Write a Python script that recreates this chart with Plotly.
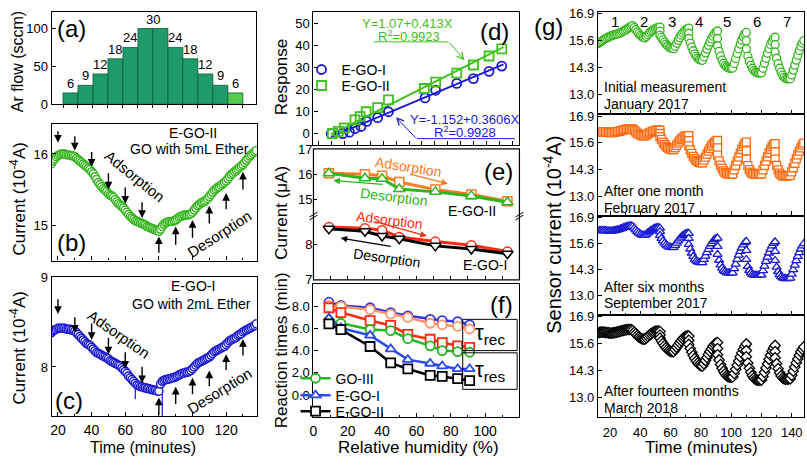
import plotly.graph_objects as go

W, H = 807, 467
FONT = "Arial, Liberation Sans, sans-serif"

# ---------------- data ----------------
# (a) Ar flow steps
AR_STEP = [1, 2, 3, 4, 5, 6, 7, 8, 9, 10, 11, 12]
AR_HEIGHT = [15, 25, 40, 60, 75, 100, 100, 75, 60, 40, 25, 15]
AR_LABELS = ["6", "9", "12", "18", "24", "30", "30", "24", "18", "12", "9", "6"]

# (b) E-GO-II current vs time (10^-4 A)
B_T = list(range(16, 139))
B_I = [15.86, 15.90, 15.93, 15.96, 15.98, 15.99, 16.00, 16.00, 16.00, 15.99, 15.99, 15.98, 15.98, 15.97, 15.96,
       15.94, 15.92, 15.90, 15.88, 15.86, 15.84, 15.82, 15.80, 15.78, 15.75, 15.72, 15.68, 15.64, 15.60, 15.57,
       15.54, 15.51, 15.49, 15.47, 15.44, 15.42, 15.41, 15.39, 15.36, 15.33, 15.30, 15.28, 15.26, 15.24, 15.21,
       15.18, 15.15, 15.12, 15.10, 15.08, 15.06, 15.05, 15.04, 15.03, 15.02, 15.01, 15.00, 14.98, 14.97, 14.96,
       14.95, 14.94, 14.93, 14.92, 14.91, 14.94, 14.98, 15.01, 15.03, 15.04, 15.05, 15.05, 15.05, 15.06, 15.07,
       15.09, 15.11, 15.12, 15.13, 15.14, 15.14, 15.14, 15.15, 15.16, 15.18, 15.21, 15.24, 15.27, 15.29, 15.31,
       15.32, 15.33, 15.35, 15.37, 15.40, 15.43, 15.46, 15.49, 15.51, 15.53, 15.54, 15.56, 15.58, 15.60, 15.62,
       15.65, 15.68, 15.71, 15.73, 15.75, 15.77, 15.79, 15.81, 15.83, 15.85, 15.88, 15.91, 15.94, 15.97, 15.99,
       16.01, 16.03, 16.05]
B_ARROW_T = [20, 30, 40, 50, 60, 70, 80, 90, 100, 110, 120, 130]
B_ARROW_TAIL = [16.34, 16.27, 16.05, 15.75, 15.55, 15.34, 14.59, 14.70, 14.80, 15.00, 15.20, 15.48]
B_ARROW_HEAD = [16.16, 16.05, 15.82, 15.50, 15.30, 15.10, 14.84, 14.98, 15.07, 15.27, 15.45, 15.75]

# (c) E-GO-I current vs time (10^-4 A)
C_T = list(range(16, 139))
C_I = [8.38, 8.40, 8.41, 8.42, 8.43, 8.43, 8.43, 8.43, 8.43, 8.42, 8.42, 8.42, 8.41, 8.41, 8.40,
       8.38, 8.36, 8.34, 8.32, 8.30, 8.28, 8.26, 8.25, 8.24, 8.22, 8.20, 8.18, 8.16, 8.15, 8.14,
       8.13, 8.12, 8.11, 8.10, 8.09, 8.07, 8.06, 8.05, 8.04, 8.03, 8.02, 8.01, 7.99, 7.97, 7.95,
       7.93, 7.90, 7.88, 7.86, 7.84, 7.82, 7.80, 7.79, 7.78, 7.78, 7.77, 7.77, 7.76, 7.76, 7.75,
       7.75, 7.74, 7.74, 7.73, 7.73, 7.81, 7.84, 7.85, 7.86, 7.86, 7.87, 7.87, 7.88, 7.88, 7.89,
       7.90, 7.91, 7.92, 7.93, 7.93, 7.94, 7.94, 7.95, 7.96, 7.98, 8.00, 8.02, 8.04, 8.05, 8.06,
       8.07, 8.08, 8.09, 8.10, 8.11, 8.13, 8.15, 8.17, 8.18, 8.19, 8.20, 8.21, 8.22, 8.23, 8.25,
       8.27, 8.29, 8.30, 8.31, 8.32, 8.33, 8.35, 8.36, 8.37, 8.39, 8.40, 8.41, 8.42, 8.43, 8.44,
       8.45, 8.46, 8.48]
C_SPIKE_T = [66, 66, None, 82, 82]
C_SPIKE_I = [7.82, 7.64, None, 7.75, 7.45]
C_ARROW_T = [20, 30, 40, 50, 60, 70, 80, 90, 100, 110, 120, 130]
C_ARROW_TAIL = [8.77, 8.57, 8.50, 8.34, 8.18, 8.02, 7.45, 7.57, 7.68, 7.77, 7.95, 8.11]
C_ARROW_HEAD = [8.59, 8.38, 8.30, 8.14, 7.98, 7.82, 7.66, 7.78, 7.88, 7.96, 8.14, 8.31]

# (d) response vs relative humidity
D_RH_I = [10.3, 17.1, 21.0, 24.2, 27.7, 31.0, 37.4, 43.7, 65.0, 71.2, 83.5, 93.2, 102.3, 109.7]
D_RESP_I = [-0.1, -0.1, 0.6, 2.2, 3.2, 5.5, 7.2, 9.9, 16.2, 19.7, 22.8, 25.0, 28.3, 30.7]
D_RH_II = [11.0, 14.5, 18.0, 24.2, 27.2, 30.7, 37.4, 43.7, 64.6, 71.2, 83.5, 93.2, 102.3, 109.7]
D_RESP_II = [0.0, 1.0, 2.5, 6.2, 7.7, 9.9, 11.8, 15.3, 20.5, 23.4, 27.5, 31.2, 35.3, 38.5]
D_FIT_X = [10.3, 110.7]
D_FIT_I = [-1.5, 31.5]
D_FIT_II = [-0.4, 39.3]

# (e) current vs RH (uA), adsorption / desorption
E_RH = [9, 30, 40, 50, 71, 92, 113]
E_II_ADS = [16.06, 16.02, 15.96, 15.71, 15.41, 15.22, 14.95]
E_II_DES = [16.06, 15.86, 15.84, 15.43, 15.32, 15.16, 14.91]
E_I_ADS = [8.48, 8.45, 8.39, 8.20, 8.07, 7.97, 7.79]
E_I_DES = [8.43, 8.36, 8.23, 8.15, 7.95, 7.86, 7.73]

# (f) reaction times (min)
F_RH = [9, 16, 33, 45, 55, 68, 75, 84, 91]
F_REC_1 = [8.35, 8.06, 7.85, 7.42, 7.13, 6.81, 6.70, 6.61, 6.32]
F_REC_2 = [8.06, 7.97, 7.68, 7.28, 6.98, 6.46, 6.32, 6.17, 5.94]
F_REC_3 = [7.85, 7.42, 6.70, 6.26, 5.45, 5.02, 4.72, 4.43, 4.29]
F_RES_GOIII = [6.70, 6.46, 5.89, 5.80, 5.07, 4.43, 4.00, 3.91, 3.85]
F_RES_EGOI = [6.90, 6.03, 5.37, 4.14, 3.19, 2.84, 2.61, 2.35, 2.35]
F_RES_EGOII = [6.41, 5.89, 4.37, 2.90, 2.35, 1.77, 1.68, 1.48, 1.30]

# (g) long-term stability (10^-4 A)
G_T = [12, 13, 14, 15, 16, 17, 18, 19, 20, 21, 22, 23, 24, 25, 26, 27, 28, 29, 30, 31, 32, 33, 34, 35,
       36, 37, 38, 39, 40, 41, 42, 43,
       44, 45, 46, 47, 48, 49, 50, 51, 52, 53, 53, 53,
       54, 55, 56, 57, 58, 59, 60, 61, 62,
       63, 64, 65, 66, 67, 68, 69, 70, 71, 72, 72, 72,
       73, 74, 75, 76, 77, 78, 79, 80, 81,
       82, 83, 84, 85, 86, 87, 88, 89, 90, 91, 91, 91,
       92, 93, 94, 95, 96, 97, 98, 99, 100, 101,
       102, 103, 104, 105, 106, 107, 108, 109, 110, 110, 110,
       111, 112, 113, 114, 115, 116, 117, 118, 119, 120,
       121, 122, 123, 124, 125, 126, 127, 128, 129, 129, 129,
       130, 131, 132, 133, 134, 135, 136, 137, 138, 139,
       140, 141, 142, 143, 144, 145, 146, 147, 148]
G_JAN2017 = [15.45, 15.50, 15.55, 15.60, 15.65, 15.69, 15.73, 15.77, 15.80, 15.83, 15.86, 15.88, 15.90, 15.92,
             15.95, 15.98, 16.02, 16.06, 16.10, 16.15, 16.20, 16.24, 16.28, 16.32,
             16.22, 16.12, 16.02, 15.93, 15.85, 15.79, 15.75, 15.73,
             15.80, 15.88, 15.96, 16.03, 16.09, 16.14, 16.18, 16.21, 16.23, 16.25, 16.05, 15.85,
             15.75, 15.63, 15.52, 15.43, 15.35, 15.29, 15.25, 15.22, 15.21,
             15.33, 15.47, 15.61, 15.74, 15.86, 15.96, 16.05, 16.12, 16.17, 16.20, 15.95, 15.70,
             15.48, 15.28, 15.11, 14.96, 14.84, 14.75, 14.69, 14.66, 14.65,
             14.82, 15.01, 15.19, 15.37, 15.53, 15.68, 15.81, 15.92, 16.01, 16.06, 15.70, 15.35,
             15.08, 14.85, 14.66, 14.51, 14.40, 14.33, 14.29, 14.27, 14.27, 14.28,
             14.50, 14.74, 14.98, 15.21, 15.43, 15.62, 15.79, 15.92, 15.99, 15.60, 15.20,
             14.85, 14.60, 14.42, 14.27, 14.16, 14.09, 14.05, 14.04, 14.04, 14.05,
             14.27, 14.51, 14.75, 14.99, 15.21, 15.41, 15.57, 15.69, 15.76, 15.40, 15.05,
             14.75, 14.49, 14.27, 14.08, 13.94, 13.84, 13.78, 13.76, 13.76, 13.77,
             13.95, 14.18, 14.42, 14.66, 14.90, 15.12, 15.32, 15.48, 15.60]
G_FEB2017 = [16.12, 16.13, 16.13, 16.14, 16.14, 16.13, 16.12, 16.11, 16.10, 16.10, 16.11, 16.12, 16.13, 16.14,
             16.16, 16.18, 16.20, 16.22, 16.24, 16.26, 16.27, 16.28, 16.28, 16.26,
             16.20, 16.13, 16.07, 16.02, 15.98, 15.95, 15.93, 15.93,
             15.98, 16.03, 16.08, 16.12, 16.15, 16.18, 16.20, 16.21, 16.21, 16.20, 16.05, 15.90,
             15.76, 15.63, 15.52, 15.43, 15.36, 15.31, 15.28, 15.26, 15.26,
             15.36, 15.47, 15.58, 15.68, 15.77, 15.84, 15.89, 15.93, 15.95, 15.95, 15.70, 15.45,
             15.25, 15.08, 14.94, 14.83, 14.74, 14.68, 14.64, 14.62, 14.62,
             14.75, 14.90, 15.05, 15.19, 15.32, 15.44, 15.54, 15.62, 15.68, 15.71, 15.35, 15.00,
             14.72, 14.51, 14.35, 14.23, 14.15, 14.10, 14.08, 14.07, 14.07, 14.08,
             14.28, 14.49, 14.70, 14.90, 15.09, 15.27, 15.42, 15.55, 15.63, 15.20, 14.80,
             14.48, 14.29, 14.17, 14.10, 14.07, 14.06, 14.06, 14.07, 14.07, 14.08,
             14.28, 14.49, 14.70, 14.91, 15.10, 15.27, 15.41, 15.51, 15.56, 15.15, 14.80,
             14.50, 14.28, 14.12, 14.03, 13.99, 13.98, 13.98, 13.99, 14.00, 14.01,
             14.18, 14.38, 14.60, 14.81, 15.01, 15.19, 15.35, 15.48, 15.58]
G_SEP2017 = [16.22, 16.23, 16.24, 16.24, 16.24, 16.23, 16.22, 16.21, 16.21, 16.21, 16.22, 16.23, 16.25, 16.27,
             16.29, 16.32, 16.35, 16.38, 16.41, 16.43, 16.45, 16.47, 16.47, 16.44,
             16.36, 16.27, 16.19, 16.12, 16.06, 16.02, 16.00, 16.00,
             16.06, 16.12, 16.18, 16.24, 16.29, 16.33, 16.36, 16.38, 16.38, 16.36, 16.18, 16.00,
             15.85, 15.72, 15.61, 15.52, 15.46, 15.42, 15.40, 15.39, 15.40,
             15.50, 15.61, 15.72, 15.82, 15.91, 15.98, 16.04, 16.08, 16.10, 16.10, 15.85, 15.55,
             15.32, 15.12, 14.95, 14.82, 14.73, 14.68, 14.65, 14.64, 14.64,
             14.80, 14.97, 15.14, 15.30, 15.45, 15.58, 15.70, 15.79, 15.84, 15.86, 15.45, 15.05,
             14.76, 14.53, 14.37, 14.26, 14.19, 14.15, 14.13, 14.12, 14.12, 14.13,
             14.34, 14.57, 14.80, 15.01, 15.20, 15.37, 15.52, 15.64, 15.70, 15.25, 14.80,
             14.45, 14.25, 14.13, 14.06, 14.02, 14.01, 14.01, 14.01, 14.02, 14.03,
             14.24, 14.47, 14.70, 14.92, 15.12, 15.31, 15.47, 15.60, 15.68, 15.20, 14.75,
             14.42, 14.20, 14.05, 13.95, 13.89, 13.86, 13.85, 13.85, 13.86, 13.87,
             14.07, 14.29, 14.52, 14.74, 14.95, 15.14, 15.32, 15.47, 15.59]
G_MAR2018 = [16.12, 16.13, 16.14, 16.14, 16.14, 16.13, 16.12, 16.11, 16.10, 16.10, 16.11, 16.12, 16.13, 16.15,
             16.17, 16.19, 16.21, 16.23, 16.25, 16.26, 16.27, 16.27, 16.26, 16.22,
             16.14, 16.06, 15.98, 15.91, 15.86, 15.82, 15.80, 15.80,
             15.86, 15.93, 16.00, 16.06, 16.11, 16.15, 16.18, 16.19, 16.19, 16.17, 16.00, 15.85,
             15.72, 15.60, 15.49, 15.39, 15.31, 15.25, 15.21, 15.20, 15.20,
             15.30, 15.41, 15.52, 15.63, 15.73, 15.82, 15.89, 15.94, 15.96, 15.95, 15.75, 15.55,
             15.35, 15.17, 15.01, 14.87, 14.75, 14.65, 14.57, 14.52, 14.50,
             14.62, 14.77, 14.92, 15.07, 15.21, 15.34, 15.46, 15.55, 15.61, 15.64, 15.35, 15.05,
             14.80, 14.58, 14.40, 14.25, 14.13, 14.04, 13.99, 13.97, 13.97, 13.98,
             14.15, 14.35, 14.55, 14.75, 14.95, 15.14, 15.31, 15.46, 15.57, 15.25, 14.95,
             14.65, 14.40, 14.20, 14.04, 13.93, 13.86, 13.83, 13.82, 13.82, 13.83,
             14.00, 14.20, 14.41, 14.62, 14.83, 15.03, 15.22, 15.38, 15.50, 15.20, 14.90,
             14.62, 14.38, 14.18, 14.03, 13.94, 13.89, 13.87, 13.87, 13.88, 13.89,
             14.06, 14.26, 14.46, 14.66, 14.85, 15.03, 15.19, 15.32, 15.43]
G_TICKS = [13.0, 14.3, 15.6, 16.9]
G_CYCLES = ["1", "2", "3", "4", "5", "6", "7"]

for s in (G_JAN2017, G_FEB2017, G_SEP2017, G_MAR2018):
    assert len(s) == len(G_T), (len(s), len(G_T))

# ---------------- colours ----------------
GREEN = "#33b51b"
ORANGE = "#ff6a10"
BLUE = "#1a1ad2"
BLACK = "#000000"
RED = "#ff2a12"
DGREEN = "#3fc01f"


def px2x(px):
    return px / W


def py2y(py):
    return 1 - py / H


def dom_x(x0, x1):
    return [x0 / W, x1 / W]


def dom_y(y0, y1):
    return [1 - y1 / H, 1 - y0 / H]


def axis(dom, rng, **kw):
    d = dict(domain=dom, range=rng, showline=True, linecolor="black", linewidth=1.2, mirror=True,
             ticks="inside", ticklen=4, tickwidth=1, tickcolor="black", showgrid=False, zeroline=False,
             tickfont=dict(size=13, color="black", family=FONT))
    d.update(kw)
    return d


fig = go.Figure()

# (a)
fig.add_trace(go.Bar(x=AR_STEP, y=AR_HEIGHT, width=1,
                     marker=dict(color=["#1f9b6b"] * (len(AR_STEP) - 1) + ["#52cc4c"],
                                 line=dict(color="#0e5a3c", width=0.8)),
                     xaxis="x", yaxis="y", showlegend=False))

# (b)
fig.add_trace(go.Scatter(x=B_T, y=B_I, mode="markers", xaxis="x2", yaxis="y2", showlegend=False,
                         marker=dict(symbol="circle", size=8, color="white", line=dict(color=GREEN, width=1.5))))
# (c)
fig.add_trace(go.Scatter(x=C_SPIKE_T, y=C_SPIKE_I, mode="lines", xaxis="x3", yaxis="y3", showlegend=False,
                         line=dict(color=BLUE, width=1.2)))
fig.add_trace(go.Scatter(x=C_T, y=C_I, mode="markers", xaxis="x3", yaxis="y3", showlegend=False,
                         marker=dict(symbol="circle", size=8, color="white", line=dict(color=BLUE, width=1.5))))

# (d)
fig.add_trace(go.Scatter(x=D_FIT_X, y=D_FIT_II, mode="lines", xaxis="x4", yaxis="y4", showlegend=False,
                         line=dict(color=DGREEN, width=2)))
fig.add_trace(go.Scatter(x=D_FIT_X, y=D_FIT_I, mode="lines", xaxis="x4", yaxis="y4", showlegend=False,
                         line=dict(color=BLUE, width=2)))
fig.add_trace(go.Scatter(x=D_RH_I, y=D_RESP_I, mode="markers", xaxis="x4", yaxis="y4", name="E-GO-I",
                         legend="legend2",
                         marker=dict(symbol="circle-open", size=9, color=BLUE, line=dict(width=1.8))))
fig.add_trace(go.Scatter(x=D_RH_II, y=D_RESP_II, mode="markers", xaxis="x4", yaxis="y4", name="E-GO-II",
                         legend="legend3",
                         marker=dict(symbol="square-open", size=9, color=DGREEN, line=dict(width=1.8))))

# (e)
fig.add_trace(go.Scatter(x=E_RH, y=E_II_ADS, mode="lines+markers", xaxis="x5", yaxis="y5", showlegend=False,
                         line=dict(color="#ff7a22", width=3),
                         marker=dict(symbol="square", size=9, color="white", line=dict(color="#ff7a22", width=1.5))))
fig.add_trace(go.Scatter(x=E_RH, y=E_II_DES, mode="lines+markers", xaxis="x5", yaxis="y5", showlegend=False,
                         line=dict(color="#2fb51e", width=3),
                         marker=dict(symbol="triangle-up", size=10, color="white", line=dict(color="#2fb51e", width=1.5))))
fig.add_trace(go.Scatter(x=E_RH, y=E_I_ADS, mode="lines+markers", xaxis="x6", yaxis="y6", showlegend=False,
                         line=dict(color=RED, width=3),
                         marker=dict(symbol="circle", size=9, color="white", line=dict(color=RED, width=1.5))))
fig.add_trace(go.Scatter(x=E_RH, y=E_I_DES, mode="lines+markers", xaxis="x6", yaxis="y6", showlegend=False,
                         line=dict(color=BLACK, width=3),
                         marker=dict(symbol="triangle-down", size=10, color="white", line=dict(color=BLACK, width=1.5))))

# (f)
f_series = [
    (F_REC_1, "#3434dd", "circle", None, None),
    (F_REC_2, "#ff9466", "circle", None, None),
    (F_REC_3, RED, "square", None, None),
    (F_RES_GOIII, "#22b522", "circle", "GO-III", "legend4"),
    (F_RES_EGOI, "#2a4ae6", "triangle-up", "E-GO-I", "legend5"),
    (F_RES_EGOII, BLACK, "square", "E-GO-II", "legend6"),
]
for vals, col, sym, name, leg in f_series:
    fig.add_trace(go.Scatter(x=F_RH, y=vals, mode="lines+markers", xaxis="x7", yaxis="y7",
                             name=name if name else "", showlegend=bool(name), legend=leg if leg else "legend",
                             line=dict(color=col, width=2.5),
                             marker=dict(symbol=sym, size=9, color="white", line=dict(color=col, width=1.8))))

# (g)
g_series = [
    (G_JAN2017, GREEN, "circle"),
    (G_FEB2017, ORANGE, "square"),
    (G_SEP2017, BLUE, "triangle-up"),
    (G_MAR2018, BLACK, "diamond"),
]
for i, (vals, col, sym) in enumerate(g_series):
    fig.add_trace(go.Scatter(x=G_T, y=vals, mode="markers", xaxis="x%d" % (8 + i), yaxis="y%d" % (8 + i),
                             showlegend=False,
                             marker=dict(symbol=sym, size=8, color="white", line=dict(color=col, width=1.3))))

# ---------------- layout / axes ----------------
PA = (48, 5, 253, 100.5)
PB = (48, 121, 254, 262)
PC = (48, 279, 254, 423)
PD = (311, 5, 518, 142.5)
PE_UP = (311, 146.5, 518, 216)
PE_LO = (311, 216, 518, 282)
PF = (311, 286.5, 518, 423.5)
PG = [(597, 5, 804, 111), (597, 111, 804, 215.5), (597, 215.5, 804, 318), (597, 318, 804, 423.5)]

lay = dict(width=W, height=H, margin=dict(l=0, r=0, t=0, b=0), paper_bgcolor="white", plot_bgcolor="white",
           font=dict(family=FONT, color="black"), showlegend=True)

edges = [s - 0.5 for s in AR_STEP] + [AR_STEP[-1] + 0.5]
lay["xaxis"] = axis(dom_x(PA[0], PA[2]), [-0.25, 13.36], anchor="y", tickvals=edges, showticklabels=False,
                    ticks="outside", ticklen=3)
lay["yaxis"] = axis(dom_y(PA[1], PA[3]), [0, 122], anchor="x", tickvals=[0, 50, 100])

lay["xaxis2"] = axis(dom_x(PB[0], PB[2]), [16.3, 138.2], anchor="y2", tickvals=[20, 40, 60, 80, 100, 120],
                     showticklabels=False, minor=dict(ticks="inside", ticklen=2, dtick=10, tick0=0))
lay["yaxis2"] = axis(dom_y(PB[1], PB[3]), [14.5, 16.42], anchor="x2", tickvals=[15, 16])

lay["xaxis3"] = axis(dom_x(PC[0], PC[2]), [16.3, 138.2], anchor="y3", tickvals=[20, 40, 60, 80, 100, 120],
                     tickfont=dict(size=14, color="black", family=FONT), ticklabelstandoff=1,
                     minor=dict(ticks="inside", ticklen=2, dtick=10, tick0=0))
lay["yaxis3"] = axis(dom_y(PC[1], PC[3]), [7.45, 9.0], anchor="x3", tickvals=[8, 9])

lay["xaxis4"] = axis(dom_x(PD[0], PD[2]), [0, 120], anchor="y4", tick0=10.7, dtick=7.5, showticklabels=False)
lay["yaxis4"] = axis(dom_y(PD[1], PD[3]), [-5.2, 55.4], anchor="x4", tickvals=[0, 10, 20, 30, 40, 50])

lay["xaxis5"] = axis(dom_x(PE_UP[0], PE_UP[2]), [0, 120], anchor="y5", showline=False, visible=False)
lay["yaxis5"] = axis(dom_y(PE_UP[1], PE_UP[3]), [14.36, 17.03], anchor="x5", tickvals=[15, 16, 17],
                     showline=False)
lay["xaxis6"] = axis(dom_x(PE_LO[0], PE_LO[2]), [0, 120], anchor="y6", showline=False, showticklabels=False,
                     dtick=10)
lay["yaxis6"] = axis(dom_y(PE_LO[1], PE_LO[3]), [6.99, 8.79], anchor="x6", tickvals=[7, 8], showline=False)

lay["xaxis7"] = axis(dom_x(PF[0], PF[2]), [0, 120], anchor="y7", tickvals=[0, 20, 40, 60, 80, 100],
                     tickfont=dict(size=14, color="black", family=FONT), ticklabelstandoff=1,
                     minor=dict(ticks="inside", ticklen=2, dtick=10, tick0=0))
lay["yaxis7"] = axis(dom_y(PF[1], PF[3]), [-1.96, 9.96], anchor="x7", tickvals=[0, 2, 4, 6, 8],
                     tickformat=".1f")

for i, box in enumerate(PG):
    n = 8 + i
    last = i == len(PG) - 1
    lay["xaxis%d" % n] = axis(dom_x(box[0], box[2]), [12.1, 148.1], anchor="y%d" % n,
                              tickvals=[20, 40, 60, 80, 100, 120, 140], showticklabels=last,
                              tickfont=dict(size=13, color="black", family=FONT), ticklabelstandoff=3,
                              minor=dict(ticks="inside", ticklen=2, dtick=10, tick0=0))
    lay["yaxis%d" % n] = axis(dom_y(box[1], box[3]), [12.05, 16.98], anchor="x%d" % n, tickvals=G_TICKS,
                              tickformat=".1f")


def legend_at(px, py, size=14):
    return dict(x=px2x(px), y=py2y(py), xanchor="left", yanchor="middle", bgcolor="rgba(0,0,0,0)",
                font=dict(size=size, family=FONT, color="black"), tracegroupgap=0, itemwidth=30,
                borderwidth=0)


lay["legend"] = legend_at(0, 0)
lay["legend"]["visible"] = False
lay["legend2"] = legend_at(299, 65)
lay["legend3"] = legend_at(299, 81.5)
lay["legend4"] = legend_at(293, 384)
lay["legend5"] = legend_at(293, 401.5)
lay["legend6"] = legend_at(293, 418)

fig.update_layout(**lay)

# ---------------- annotations ----------------
ann = []


def A(px, py, text, size=14, color="black", angle=0, xanchor="center", yanchor="middle"):
    ann.append(dict(x=px2x(px), y=py2y(py), xref="paper", yref="paper", text=text, showarrow=False,
                    font=dict(size=size, color=color, family=FONT), textangle=angle,
                    xanchor=xanchor, yanchor=yanchor))


def ARR(tail, head, color, width=1.5, head_style=2, size=1.0):
    ann.append(dict(x=px2x(head[0]), y=py2y(head[1]), xref="paper", yref="paper", text="",
                    ax=tail[0] - head[0], ay=tail[1] - head[1], axref="pixel", ayref="pixel",
                    showarrow=True, arrowhead=head_style, arrowsize=size, arrowwidth=width, arrowcolor=color))


# (a) bar labels (equal neighbouring labels share one label)
i = 0
while i < len(AR_LABELS):
    j = i
    while j + 1 < len(AR_LABELS) and AR_LABELS[j + 1] == AR_LABELS[i]:
        j += 1
    xs = AR_STEP[i:j + 1]
    ann.append(dict(x=sum(xs) / len(xs), y=AR_HEIGHT[i], xref="x", yref="y", text=AR_LABELS[i],
                    showarrow=False, yanchor="bottom", yshift=0,
                    font=dict(size=13, color="black", family=FONT)))
    i = j + 1

# (b),(c) arrows
for t, tail, head in zip(B_ARROW_T, B_ARROW_TAIL, B_ARROW_HEAD):
    ann.append(dict(x=t, y=head, ax=t, ay=tail, xref="x2", yref="y2", axref="x2", ayref="y2", text="",
                    showarrow=True, arrowhead=2, arrowsize=1.1, arrowwidth=1.4, arrowcolor="black"))
for t, tail, head in zip(C_ARROW_T, C_ARROW_TAIL, C_ARROW_HEAD):
    ann.append(dict(x=t, y=head, ax=t, ay=tail, xref="x3", yref="y3", axref="x3", ayref="y3", text="",
                    showarrow=True, arrowhead=2, arrowsize=1.1, arrowwidth=1.4, arrowcolor="black"))

# panel letters
for lbl, (px, py) in {"(a)": (68, 22), "(b)": (68, 243), "(c)": (65, 407), "(d)": (493, 25),
                      "(e)": (497, 170), "(f)": (500, 307), "(g)": (547, 20)}.items():
    A(px, py, lbl, size=24)

# axis titles
A(13, 56, "Ar flow (sccm)", size=16, angle=-90)
A(14, 198, "Current (10<sup>-4</sup>A)", size=17, angle=-90)
A(14, 352, "Current (10<sup>-4</sup>A)", size=17, angle=-90)
A(140, 455, "Time (minutes)", size=16)
A(279, 72, "Response", size=17, angle=-90)
A(279, 213, "Current (\u03bcA)", size=17, angle=-90)
A(279, 355, "Reaction times (min)", size=17, angle=-90)
A(417, 455, "Relative humidity (%)", size=17)
A(551, 235, "Sensor current (10<sup>-4</sup>A)", size=20, angle=-90)
A(701, 455, "Time (minutes)", size=17)

# (b),(c) texts
A(190, 130, "E-GO-II", size=14)
A(186, 146.5, "GO with 5mL Ether", size=14)
A(132, 175, "Adsorption", size=15, angle=39)
A(217, 234, "Desorption", size=15, angle=-33)
A(190, 288, "E-GO-I", size=14)
A(188, 307, "GO with 2mL Ether", size=14)
A(116, 338, "Adsorption", size=15, angle=35)
A(217, 396, "Desorption", size=15, angle=-32)

# (d) texts, underlines and arrows
A(406, 17, "Y=1.07+0.413X", size=13, color=DGREEN)
A(407, 30, "R<sup>2</sup>=0.9923", size=13, color=DGREEN)
A(463, 116, "Y=-1.152+0.3606X", size=13, color=BLUE)
A(463, 129.5, "R<sup>2</sup>=0.9928", size=13, color=BLUE)
ARR((446.7, 36), (462.7, 55), DGREEN, width=1, head_style=5, size=1.3)
ARR((415, 136), (394, 114), BLUE, width=1, head_style=5, size=1.3)

# (e) texts and arrows
A(407, 165, "Adsorption", size=14, color="#ff7a22", angle=9)
ARR((406.7, 172.7), (446, 182.7), "#ff7a22", width=1.3, head_style=2)
A(392, 196.5, "Desorption", size=14, color="#2fb51e", angle=7)
ARR((381.7, 183.3), (331, 179.3), "#2fb51e", width=1.3, head_style=2)
A(470, 211, "E-GO-II", size=14)
A(387, 220, "Adsorption", size=14, color=RED, angle=7)
ARR((371.7, 221.7), (425, 236.7), RED, width=1.3, head_style=2)
A(385, 259.5, "Desorption", size=14, angle=8)
ARR((390, 247.3), (338.3, 238.7), BLACK, width=1.3, head_style=2)
A(483, 266.5, "E-GO-I", size=14)

# (f) tau labels
A(488, 338, "\u03c4<sub>rec</sub>", size=22)
A(488, 376, "\u03c4<sub>res</sub>", size=22)

# (g) texts
for text, py in [("Initial measurement", 83), ("January 2017", 100), ("After one month", 190),
                 ("February 2017", 208), ("After six months", 289), ("September 2017", 306),
                 ("After fourteen months", 397), ("March 2018", 414)]:
    A(601, py, text, size=14, xanchor="left")
for lbl, px in zip(G_CYCLES, [614, 643, 671, 698, 727, 757, 787]):
    A(px, 15, lbl, size=15)

fig.update_layout(annotations=ann)

# ---------------- shapes ----------------
shapes = []


def LINE(x0, y0, x1, y1, color="black", width=1.2):
    shapes.append(dict(type="line", xref="paper", yref="paper", x0=px2x(x0), y0=py2y(y0), x1=px2x(x1),
                       y1=py2y(y1), line=dict(color=color, width=width)))


def RECT(x0, y0, x1, y1, color="black", width=1.2):
    shapes.append(dict(type="rect", xref="paper", yref="paper", x0=px2x(x0), y0=py2y(y1), x1=px2x(x1),
                       y1=py2y(y0), line=dict(color=color, width=width)))


RECT(PE_UP[0], PE_UP[1], PE_LO[2], PE_LO[3])
for xe in (PE_UP[0], PE_UP[2]):
    LINE(xe - 4, 217, xe + 4, 212, width=1)
    LINE(xe - 4, 220, xe + 4, 215, width=1)
LINE(371.7, 36, 446.7, 36, color=DGREEN, width=1)
LINE(415, 136, 513.3, 136, color=BLUE, width=1)
RECT(461, 322.7, 515.7, 355, width=1)
RECT(461, 357.3, 515.7, 395, width=1)

fig.update_layout(shapes=shapes)

fig.write_html("out.html", config={"displayModeBar": False},
               post_script="document.body.style.margin='0px';document.body.style.overflow='hidden';")
